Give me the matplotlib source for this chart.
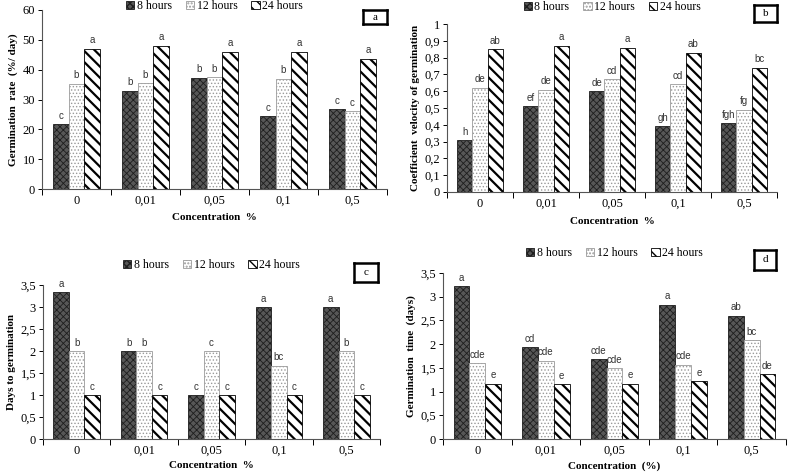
import numpy as np
import matplotlib
matplotlib.use('Agg')
import matplotlib.pyplot as plt

plt.rcParams['font.family'] = 'Liberation Serif'

concentrations = ['0', '0,01', '0,05', '0,1', '0,5']
series_names = ['8 hours', '12 hours', '24 hours']

# panel a - germination rate
rate_8 = [21.7, 33.0, 37.2, 24.4, 26.7]
rate_12 = [35.2, 35.4, 37.5, 36.9, 26.1]
rate_24 = [47.0, 48.1, 46.0, 46.0, 43.6]
rate_letters = [['c', 'b', 'b', 'c', 'c'], ['b', 'b', 'b', 'b', 'c'], ['a', 'a', 'a', 'a', 'a']]

# panel b - coefficient velocity of germination
cvg_8 = [0.31, 0.51, 0.60, 0.39, 0.41]
cvg_12 = [0.62, 0.61, 0.67, 0.64, 0.49]
cvg_24 = [0.85, 0.87, 0.86, 0.83, 0.74]
cvg_letters = [['h', 'ef', 'de', 'gh', 'fgh'], ['de', 'de', 'cd', 'cd', 'fg'], ['ab', 'a', 'a', 'ab', 'bc']]

# panel c - days to germination
days_8 = [3.33, 2.0, 1.0, 3.0, 3.0]
days_12 = [2.0, 2.0, 2.0, 1.67, 2.0]
days_24 = [1.0, 1.0, 1.0, 1.0, 1.0]
days_letters = [['a', 'b', 'c', 'a', 'a'], ['b', 'b', 'c', 'bc', 'b'], ['c', 'c', 'c', 'c', 'c']]

# panel d - germination time
time_8 = [3.22, 1.94, 1.68, 2.83, 2.60]
time_12 = [1.60, 1.65, 1.50, 1.57, 2.08]
time_24 = [1.17, 1.16, 1.17, 1.22, 1.37]
time_letters = [['a', 'cd', 'cde', 'a', 'ab'], ['cde', 'cde', 'cde', 'cde', 'bc'], ['e', 'e', 'e', 'e', 'de']]

styles = [
    dict(facecolor='#575757', edgecolor='#1e1e1e', hatch='xxxxx', hlw=0.6),
    dict(facecolor='white', edgecolor='#9a9a9a', hatch='.....', hlw=0.6),
    dict(facecolor='white', edgecolor='black', hatch='\\\\\\', hlw=1.6),
]


def draw_panel(rect, series, letters, ymax, ystep, fmt, ylabel, xlabel, tag,
               legend_y, tag_rect, xlabel_y):
    ax = fig.add_axes(rect)
    x = np.arange(len(concentrations))
    w = 0.23
    handles = []
    for i, (vals, st) in enumerate(zip(series, styles)):
        with plt.rc_context({'hatch.linewidth': st['hlw'], 'hatch.color': st['edgecolor']}):
            bars = ax.bar(x + (i - 1) * w, vals, w, facecolor=st['facecolor'],
                          edgecolor=st['edgecolor'], hatch=st['hatch'], linewidth=0.6)
        try:
            for b in bars:
                b.set_hatch_linewidth(st['hlw'])
        except AttributeError:
            pass
        handles.append(bars)
        for xi, v, lab in zip(x + (i - 1) * w, vals, letters[i]):
            ax.text(xi, v + ymax * 0.02, lab, ha='center', va='bottom',
                    fontsize=7, family='Liberation Sans', color='#333333')
    ax.set_xlim(-0.5, len(concentrations) - 0.5)
    ax.set_ylim(0, ymax)
    ticks = np.arange(0, ymax + ystep / 2, ystep)
    ax.set_yticks(ticks)
    ax.set_yticklabels([fmt(t) for t in ticks], fontsize=9)
    ax.set_xticks(np.arange(-0.5, len(concentrations), 1))
    ax.set_xticklabels([])
    ax.set_xticks(x, minor=True)
    ax.set_xticklabels(concentrations, minor=True, fontsize=9)
    ax.tick_params(axis='x', which='minor', length=0, pad=4)
    ax.tick_params(axis='x', which='major', length=4, direction='out', width=0.7)
    ax.tick_params(axis='y', length=3, width=0.7, pad=2)
    ax.spines['top'].set_visible(False)
    ax.spines['right'].set_visible(False)
    ax.spines['left'].set_color('#555555')
    ax.spines['bottom'].set_color('#555555')
    ax.set_ylabel(ylabel, fontsize=8, fontweight='bold', labelpad=3)
    fig.text(rect[0] + rect[2] / 2, xlabel_y, xlabel, ha='center', va='center',
             fontsize=8, fontweight='bold')
    fig.legend(handles, series_names, loc='center', ncol=3,
               bbox_to_anchor=(rect[0] + rect[2] * 0.5, legend_y), frameon=False,
               fontsize=8.5, handlelength=0.7, handleheight=0.7, handletextpad=0.2,
               columnspacing=1.2, borderpad=0)
    tax = fig.add_axes(tag_rect)
    tax.set_xticks([])
    tax.set_yticks([])
    for s in tax.spines.values():
        s.set_linewidth(1.8)
    tax.text(0.5, 0.5, tag, ha='center', va='center', fontsize=8, transform=tax.transAxes)
    return ax


W, H = 789, 472
fig = plt.figure(figsize=(W / 100, H / 100), dpi=100)


def px(l, r, t, b):
    return [l / W, (H - b) / H, (r - l) / W, (b - t) / H]


comma = lambda v: ('%g' % round(v, 2)).replace('.', ',')

draw_panel(px(42, 387, 10, 189), [rate_8, rate_12, rate_24], rate_letters, 60, 10,
           lambda v: '%d' % v, 'Germination  rate  (%/ day)', 'Concentration  %', 'a',
           1 - 6 / H, px(363, 387, 10, 24), 1 - 218 / H)
draw_panel(px(447, 777, 24, 192), [cvg_8, cvg_12, cvg_24], cvg_letters, 1.0, 0.1,
           comma, 'Coefficient  velocity of germination', 'Concentration  %', 'b',
           1 - 7 / H, px(754, 777, 5, 22), 1 - 221 / H)
draw_panel(px(43, 380, 285, 439), [days_8, days_12, days_24], days_letters, 3.5, 0.5,
           comma, 'Days to germination', 'Concentration  %', 'c',
           1 - 265 / H, px(354, 378, 263, 282), 1 - 466 / H)
draw_panel(px(443, 786, 273, 439), [time_8, time_12, time_24], time_letters, 3.5, 0.5,
           comma, 'Germination  time  (days)', 'Concentration  (%)', 'd',
           1 - 253 / H, px(754, 776, 250, 270), 1 - 466 / H)

fig.savefig('out.png', dpi=100)
